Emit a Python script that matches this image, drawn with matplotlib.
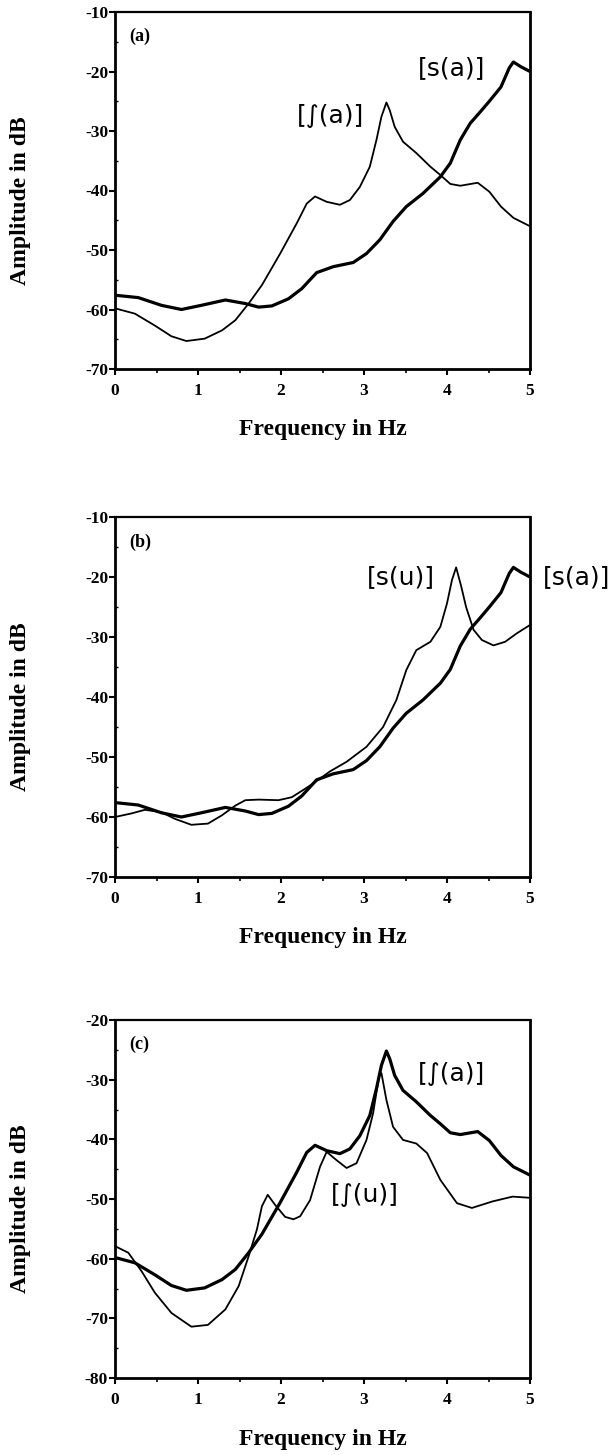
import matplotlib
matplotlib.use("Agg")
import matplotlib.pyplot as plt
from matplotlib.ticker import MultipleLocator, FuncFormatter

# ---------------- data ----------------
freq_sa = [0, 0.28, 0.56, 0.80, 1.04, 1.33, 1.57, 1.73, 1.89, 2.09, 2.25, 2.43,
           2.63, 2.87, 3.03, 3.19, 3.35, 3.51, 3.71, 3.92, 4.04, 4.16, 4.28, 4.40,
           4.51, 4.65, 4.75, 4.80, 4.89, 5.0]
amp_sa = [-57.6, -58.0, -59.3, -60.0, -59.3, -58.4, -59.0, -59.6, -59.4, -58.2,
          -56.5, -53.8, -52.8, -52.1, -50.6, -48.3, -45.2, -42.7, -40.5, -37.7,
          -35.4, -31.5, -28.7, -26.8, -25.0, -22.6, -19.4, -18.4, -19.2, -20.0]

freq_ia = [0, 0.24, 0.48, 0.68, 0.86, 1.08, 1.29, 1.45, 1.61, 1.77, 1.99, 2.19,
           2.31, 2.41, 2.55, 2.71, 2.83, 2.95, 3.07, 3.15, 3.21, 3.27, 3.31, 3.37,
           3.47, 3.63, 3.80, 3.92, 4.04, 4.16, 4.37, 4.51, 4.65, 4.80, 5.0]
amp_ia = [-59.8, -60.7, -62.7, -64.5, -65.3, -64.9, -63.5, -61.8, -59.0, -55.9,
          -50.6, -45.5, -42.2, -41.0, -41.9, -42.4, -41.6, -39.4, -36.0, -31.5,
          -27.6, -25.2, -26.5, -29.3, -31.8, -33.7, -36.0, -37.4, -38.9, -39.2,
          -38.7, -40.2, -42.7, -44.6, -46.0]

freq_su = [0, 0.20, 0.36, 0.56, 0.72, 0.92, 1.12, 1.29, 1.45, 1.57, 1.73, 1.97,
           2.13, 2.29, 2.41, 2.59, 2.79, 3.03, 3.23, 3.39, 3.51, 3.63, 3.80, 3.92,
           4.00, 4.06, 4.11, 4.17, 4.23, 4.32, 4.42, 4.56, 4.70, 4.84, 5.0]
amp_su = [-60.0, -59.4, -58.8, -59.2, -60.3, -61.3, -61.1, -59.7, -58.1, -57.2,
          -57.1, -57.2, -56.7, -55.3, -54.2, -52.4, -50.8, -48.3, -45.0, -40.5,
          -35.5, -32.2, -30.8, -28.3, -24.4, -20.5, -18.4, -21.5, -25.0, -28.8,
          -30.5, -31.4, -30.8, -29.4, -28.0]

freq_iu = [0, 0.16, 0.32, 0.48, 0.68, 0.92, 1.12, 1.33, 1.49, 1.61, 1.71, 1.77,
           1.84, 1.93, 2.05, 2.15, 2.23, 2.35, 2.47, 2.55, 2.67, 2.79, 2.91, 3.03,
           3.11, 3.18, 3.21, 3.27, 3.35, 3.47, 3.63, 3.76, 3.92, 4.12, 4.30, 4.55,
           4.79, 5.0]
amp_iu = [-57.9, -59.0, -62.1, -65.7, -69.1, -71.4, -71.1, -68.5, -64.6, -59.6,
          -55.1, -51.2, -49.3, -51.0, -53.0, -53.4, -52.9, -50.2, -44.6, -42.1,
          -43.5, -44.8, -44.0, -40.1, -35.6, -29.5, -28.9, -33.4, -37.9, -40.1,
          -40.7, -42.3, -46.8, -50.7, -51.5, -50.4, -49.6, -49.8]

panel_tags = ["(a)", "(b)", "(c)"]
ylims = [(-70, -10), (-70, -10), (-80, -20)]
xlabel_text = "Frequency in Hz"
ylabel_text = "Amplitude in dB"

# ---------------- figure ----------------
W, H = 614, 1455
fig = plt.figure(figsize=(W / 100, H / 100), dpi=100)
fig.patch.set_facecolor("white")

# axes boxes in pixels: (left, top, right, bottom)
boxes = [(115, 12, 530, 369), (115, 517, 530, 877), (115, 1020, 530, 1378)]

serif = "Liberation Serif"
sans = ["DejaVu Sans"]
THICK = 2.3
THIN = 1.3

axes = []
for (l, t, r, b), tag, yl in zip(boxes, panel_tags, ylims):
    ax = fig.add_axes([l / W, 1 - b / H, (r - l) / W, (b - t) / H])
    ax.set_xlim(0, 5)
    ax.set_ylim(*yl)
    ax.xaxis.set_major_locator(MultipleLocator(1))
    ax.xaxis.set_minor_locator(MultipleLocator(0.5))
    ax.yaxis.set_major_locator(MultipleLocator(10))
    ax.yaxis.set_minor_locator(MultipleLocator(5))
    ax.xaxis.set_major_formatter(FuncFormatter(lambda v, p: "%d" % round(v)))
    ax.yaxis.set_major_formatter(FuncFormatter(lambda v, p: "%d" % round(v)))
    ax.tick_params(axis="x", which="major", direction="out", length=4, width=1.5,
                   pad=6, labelsize=12.5)
    ax.tick_params(axis="x", which="minor", direction="out", length=3, width=1.2)
    ax.tick_params(axis="y", which="major", direction="out", length=4, width=1.5,
                   pad=1, labelsize=12.5)
    ax.tick_params(axis="y", which="minor", direction="in", length=2, width=1.0)
    for lab in ax.get_xticklabels() + ax.get_yticklabels():
        lab.set_fontfamily(serif)
        lab.set_fontweight("bold")
    for s in ax.spines.values():
        s.set_linewidth(2.0)
    ax.spines["top"].set_linewidth(1.6)
    ax.set_xlabel(xlabel_text, fontfamily=serif, fontweight="bold", fontsize=17,
                  va="center")
    ax.xaxis.set_label_coords(0.5, -61 / (b - t))
    ax.set_ylabel(ylabel_text, fontfamily=serif, fontweight="bold", fontsize=17,
                  va="center")
    ax.yaxis.set_label_coords(-94 / (r - l), 0.472)
    ax.text(0.035, 0.955, tag, transform=ax.transAxes, ha="left", va="top",
            fontfamily=serif, fontweight="bold", fontsize=13)
    axes.append(ax)

ax_a, ax_b, ax_c = axes
kw_thick = dict(color="black", lw=THICK, solid_joinstyle="round", solid_capstyle="butt")
kw_thin = dict(color="black", lw=THIN, solid_joinstyle="round", solid_capstyle="butt")
lab_kw = dict(ha="center", va="center", fontfamily=sans, fontsize=18)

# (a)
ax_a.plot(freq_sa, amp_sa, **kw_thick)
ax_a.plot(freq_ia, amp_ia, **kw_thin)
ax_a.text(4.06, -19.4, "[s(a)]", **lab_kw)
ax_a.text(2.60, -27.5, "[\u222b(a)]", **lab_kw)

# (b)
ax_b.plot(freq_sa, amp_sa, **kw_thick)
ax_b.plot(freq_su, amp_su, **kw_thin)
ax_b.text(3.45, -20.0, "[s(u)]", **lab_kw)
ax_b.text(5.56, -20.0, "[s(a)]", clip_on=False, **lab_kw)

# (c)
ax_c.plot(freq_ia, amp_ia, **kw_thick)
ax_c.plot(freq_iu, amp_iu, **kw_thin)
ax_c.text(4.06, -29.0, "[\u222b(a)]", **lab_kw)
ax_c.text(3.01, -49.3, "[\u222b(u)]", **lab_kw)

fig.savefig("out.png", dpi=100, facecolor="white")
